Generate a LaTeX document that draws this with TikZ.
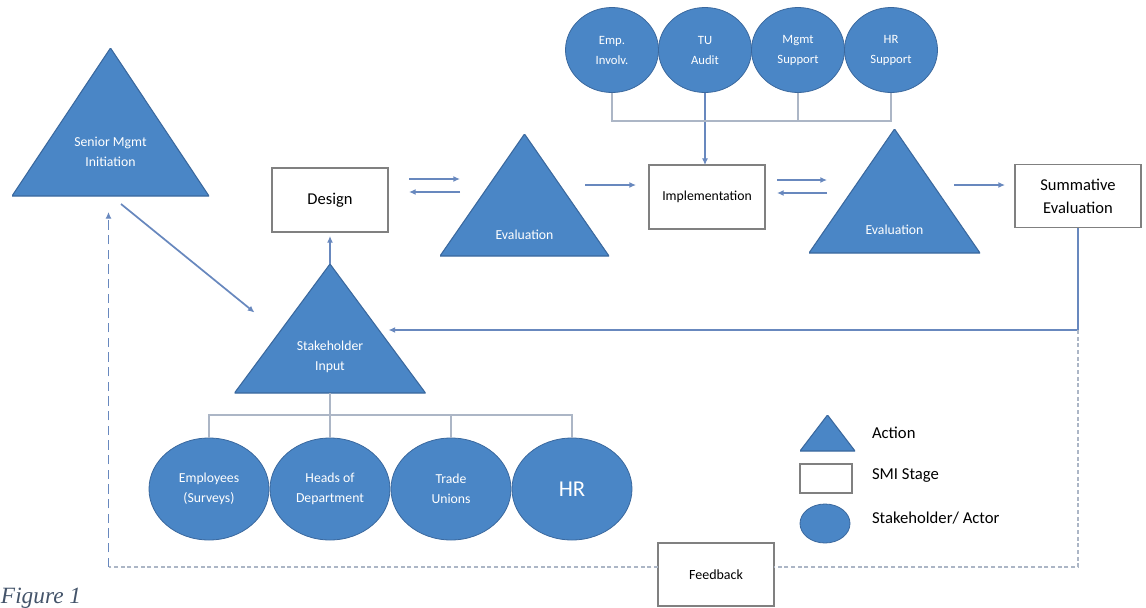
\documentclass[tikz,border=0pt]{standalone}
\usepackage{fontspec}
\setmainfont{Carlito}
\newfontfamily\captionfont{Liberation Serif}
\usetikzlibrary{arrows.meta,shapes.geometric,positioning,calc}

\definecolor{actblue}{RGB}{74,134,198}
\definecolor{actedge}{RGB}{58,104,158}
\definecolor{arrowblue}{RGB}{104,136,190}
\definecolor{linkgray}{RGB}{172,182,198}
\definecolor{boxgray}{RGB}{128,128,128}
\definecolor{capblue}{RGB}{68,84,106}

\tikzset{
  base/.style={align=center, inner sep=0pt, outer sep=0mm},
  action/.style={rectangle, base, path picture={
      \fill[actblue, draw=actedge, line width=0.8pt]
        (path picture bounding box.south west) -- (path picture bounding box.south east)
        -- (path picture bounding box.north) -- cycle;}},
  acttext/.style={base, text=white, font=\fontsize{10.3}{15}\selectfont},
  stage/.style={rectangle, base, draw=boxgray, line width=0.9pt, fill=white, minimum width=87pt, minimum height=48pt, font=\fontsize{12.4}{17}\selectfont},
  actor/.style={ellipse, base, fill=actblue, draw=actedge, line width=0.6pt, text=white, font=\fontsize{10.3}{15}\selectfont},
  legtext/.style={base, font=\fontsize{12.5}{15}\selectfont},
  arrow/.style={-{Latex[length=5pt,width=4.5pt]}, line width=1.3pt, color=arrowblue},
  link/.style={line width=0.8pt, color=linkgray},
  fbline/.style={line width=0.8pt, color=linkgray, dash pattern=on 3pt off 2pt}
}

\begin{document}
\begin{tikzpicture}[x=0.75pt, y=0.75pt]
    \useasboundingbox (0,0) rectangle (1146,-607);

    % main row
    \node[action, minimum width=147.75pt, minimum height=111pt] (senior) at (110.5,-122) {};
    \node[stage] (design) at (330,-200) {Design};
    \node[action, right=39pt of design, yshift=3.75pt, minimum width=126.75pt, minimum height=91.5pt] (eval1) {};
    \node[stage, right=30pt of eval1, yshift=-1.5pt, font=\fontsize{10.3}{13}\selectfont] (impl) {Implementation};
    \node[action, right=33pt of impl, yshift=4.5pt, minimum width=128.25pt, minimum height=93pt] (eval2) {};
    \node[stage, right=26.25pt of eval2, yshift=-4pt, minimum width=94.5pt, minimum height=47.25pt] (summ) {Summative\\Evaluation};
    \node[action, below=24pt of design, minimum width=143.25pt, minimum height=96.75pt] (stake) {};

    \node[acttext] (senior-txt) at ($(senior.south)+(0,44)$) {Senior Mgmt\\Initiation};
    \node[acttext] (eval1-txt) at ($(eval1.south)+(0,21)$) {Evaluation};
    \node[acttext] (eval2-txt) at ($(eval2.south)+(0,23)$) {Evaluation};
    \node[acttext] (stake-txt) at ($(stake.south)+(0,36.5)$) {Stakeholder\\Input};

    % stakeholders
    \tikzset{top/.style={actor, minimum width=69.75pt, minimum height=63.75pt, font=\fontsize{9.5}{15}\selectfont}}
    \tikzset{bottom/.style={actor, minimum width=90pt, minimum height=76.5pt}}
    \node[top] (emp) at (612,-50) {Emp.\\Involv.};
    \node[top, right=0pt of emp] (tu) {TU\\Audit};
    \node[top, right=0pt of tu] (mgmt) {Mgmt\\Support};
    \node[top, right=0pt of mgmt] (hrsup) {HR\\Support};

    \node[bottom, below=33.75pt of stake] (heads) {Heads of\\Department};
    \node[bottom, left=0.75pt of heads] (empl) {Employees\\(Surveys)};
    \node[bottom, right=0.75pt of heads] (trade) {Trade\\Unions};
    \node[bottom, right=0.75pt of trade, font=\fontsize{17}{20}\selectfont] (hr) {HR};

    % legend
    \node[action, minimum width=41.25pt, minimum height=27pt] (leg-act) at (827.5,-433) {};
    \node[stage, minimum width=39pt, minimum height=21.75pt] (leg-stage) at (826,-478.5) {};
    \node[actor, minimum width=37.5pt, minimum height=29.25pt] (leg-actor) at (825,-523.5) {};
    \node[legtext, right=12.75pt of leg-act] (leg-act-txt) {Action};
    \node[legtext, right=15pt of leg-stage, yshift=2.6pt] (leg-stage-txt) {SMI Stage};
    \node[legtext, right=16.5pt of leg-actor, yshift=4pt] (leg-actor-txt) {Stakeholder/ Actor};

    \node[stage, minimum height=47.25pt, font=\fontsize{10.5}{13}\selectfont] (feedback) at (716,-574.5) {Feedback};
    \node[base, anchor=base west, text=capblue, font=\captionfont\itshape\fontsize{17.5}{20}\selectfont] (caption) at (1,-603) {Figure 1};

    % connectors
    \draw[arrow] ($(senior.south)+(10.5,-8)$) -- ($(stake.west)+(20,16)$);
    \draw[arrow] (stake.north) -- ($(design.south)+(0,-4)$);
    \draw[arrow] ($(design.east)+(21,21)$) -- ++(51,0);
    \draw[arrow] ($(design.east)+(72,8)$) -- ++(-51,0);
    \draw[arrow] ($(eval1.east)+(-24,10)$) -- ++(51,0);
    \draw[arrow] ($(impl.east)+(12,17)$) -- ++(50,0);
    \draw[arrow] ($(impl.east)+(62,4)$) -- ++(-50,0);
    \draw[arrow] ($(eval2.east)+(-26,6)$) -- ++(51,0);
    \draw[arrow, line width=0.8pt] (tu.south) -- (tu.south |- impl.north);

    \coordinate (topbus) at ($(emp.south)+(0,-28.5)$);
    \draw[link] (emp.south) -- (topbus) -| (hrsup.south);
    \draw[link] (mgmt.south) -- (mgmt.south |- topbus);

    \coordinate (botbus) at ($(stake.south)+(0,-22)$);
    \draw[link] (stake.south) -- (heads.north);
    \draw[link] (empl.north) |- (botbus) -| (hr.north);
    \draw[link] (trade.north) -- (trade.north |- botbus);

    % feedback loop
    \coordinate (backin) at ($(stake.east)+(-37,-1.5)$);
    \draw[arrow, line width=1pt] (summ.south) |- (backin);
    \coordinate (fbrow) at ($(feedback.center)+(0,7.5)$);
    \coordinate (fbcorner) at ($(senior.south |- fbrow)+(-2,0)$);
    \draw[fbline] (summ.south |- backin) |- (feedback.east |- fbrow);
    \draw[fbline] (feedback.west |- fbrow) -- (fbcorner);
    \draw[fbline, color=arrowblue, dash pattern=on 7pt off 4pt, -{Latex[length=5pt,width=4.5pt]}] (fbcorner) -- ($(senior.south)+(-2,-16)$);
\end{tikzpicture}
\end{document}
